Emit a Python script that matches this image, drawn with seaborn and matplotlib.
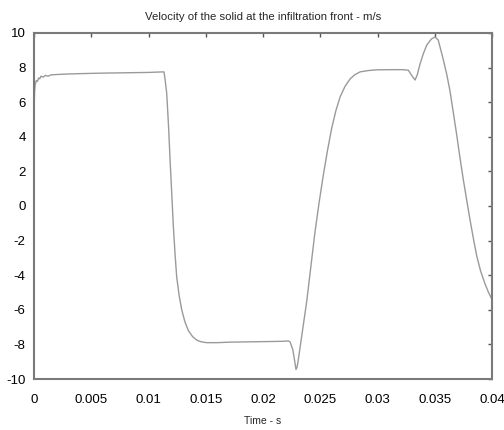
import matplotlib
matplotlib.use("Agg")
import matplotlib.pyplot as plt
import seaborn as sns
import pandas as pd

time_s = [0.0, 0.00005, 0.0001, 0.0002, 0.0003, 0.0004, 0.0005, 0.0006, 0.0008, 0.001,
          0.0012, 0.0015, 0.002, 0.003, 0.004, 0.006, 0.008, 0.01, 0.0112, 0.01135,
          0.01145, 0.01159, 0.01175, 0.01188, 0.01203, 0.01217, 0.01232, 0.01246, 0.01268,
          0.0129, 0.01318, 0.01348, 0.01385, 0.01421, 0.0146, 0.01508, 0.016, 0.01712,
          0.019, 0.021, 0.0218, 0.0222, 0.02236, 0.0226, 0.02275, 0.02288, 0.02298,
          0.02308, 0.02345, 0.02382, 0.02418, 0.02454, 0.0249, 0.02527, 0.02563, 0.026,
          0.02636, 0.02673, 0.02715, 0.0276, 0.028, 0.02847, 0.0292, 0.02993, 0.031,
          0.0322, 0.03269, 0.03298, 0.03328, 0.03348, 0.03371, 0.034, 0.0343, 0.0347,
          0.03502, 0.0353, 0.03575, 0.03605, 0.03633, 0.03662, 0.03692, 0.0372, 0.0375,
          0.0378, 0.03808, 0.03838, 0.03867, 0.039, 0.03939, 0.0397, 0.04]
velocity = [5.4, 6.6, 7.0, 7.25, 7.2, 7.4, 7.35, 7.5, 7.45, 7.55,
            7.5, 7.58, 7.6, 7.63, 7.65, 7.68, 7.7, 7.72, 7.75, 7.75,
            7.3, 6.5, 4.6, 2.7, 0.7, -1.2, -2.8, -4.1, -5.2,
            -6.0, -6.7, -7.2, -7.55, -7.75, -7.85, -7.9, -7.9, -7.87,
            -7.85, -7.83, -7.82, -7.8, -7.85, -8.3, -8.9, -9.45, -9.3,
            -8.9, -7.2, -5.5, -3.5, -1.5, 0.2, 1.8, 3.2, 4.5,
            5.5, 6.3, 6.9, 7.34, 7.58, 7.75, 7.83, 7.87, 7.88,
            7.88, 7.85, 7.55, 7.28, 7.6, 8.2, 8.8, 9.3, 9.65,
            9.77, 9.6, 8.45, 7.6, 6.65, 5.4, 4.1, 2.8, 1.5,
            0.3, -0.8, -1.9, -2.9, -3.75, -4.5, -5.0, -5.4]

x_ticks = [0, 0.005, 0.01, 0.015, 0.02, 0.025, 0.03, 0.035, 0.04]
x_tick_labels = ["0", "0.005", "0.01", "0.015", "0.02", "0.025", "0.03", "0.035", "0.04"]
y_ticks = [-10, -8, -6, -4, -2, 0, 2, 4, 6, 8, 10]

sns.set_style("white")
plt.rcParams["font.family"] = ["Liberation Sans", "DejaVu Sans"]
plt.rcParams["axes.unicode_minus"] = False

df = pd.DataFrame({"t": time_s, "v": velocity})

fig = plt.figure(figsize=(5.04, 4.30), dpi=100)
ax = fig.add_axes([0.0675, 0.1186, 0.9087, 0.8047])
sns.lineplot(data=df, x="t", y="v", ax=ax, color="#9a9a9a", linewidth=1.0, estimator=None, sort=False)

ax.set_xlim(0, 0.04)
ax.set_ylim(-10, 10)
ax.set_xticks(x_ticks)
ax.set_xticklabels(x_tick_labels)
ax.set_yticks(y_ticks)
ax.tick_params(axis="both", direction="in", length=3, width=1, color="#555555",
               labelsize=9.5, top=True, right=True, labelcolor="black")
ax.tick_params(axis="x", pad=11)
ax.tick_params(axis="y", pad=6)
for s in ax.spines.values():
    s.set_color("#7a7a7a")
    s.set_linewidth(1.5)
ax.set_xlabel("Time - s", fontsize=7.5, labelpad=7)
ax.set_ylabel("")
ax.set_title("Velocity of the solid at the infiltration front - m/s", fontsize=8.2, pad=9)

fig.savefig("out.png", dpi=100)
